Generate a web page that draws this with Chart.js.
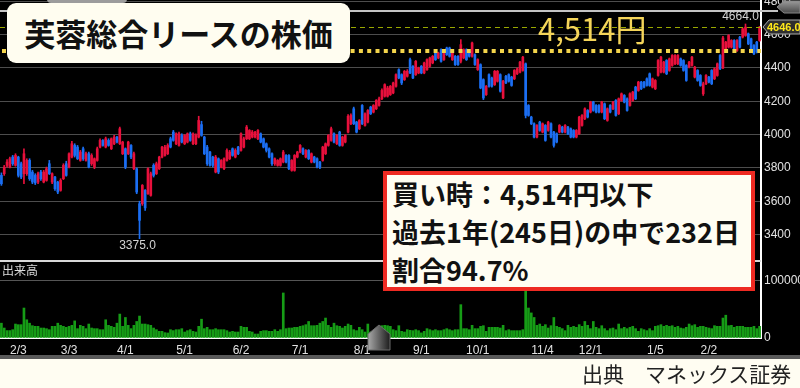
<!DOCTYPE html>
<html><head><meta charset="utf-8">
<script src="https://cdn.jsdelivr.net/npm/chart.js@4"></script>
<style>
html,body{margin:0;padding:0;background:#fffdf2;}
#wrap{position:relative;width:800px;height:388px;overflow:hidden;background:#fffdf2;font-family:"Noto Sans CJK JP",sans-serif;}
#black{position:absolute;left:0;top:0;width:800px;height:355px;background:#000;}
#band{position:absolute;left:0;top:355px;width:800px;height:4px;background:#5a5a5a;}
#c1{position:absolute;left:0;top:0;}
#c2{position:absolute;left:0;top:262px;}
#deco{position:absolute;left:0;top:0;}
#title{position:absolute;left:7px;top:3px;width:343px;height:60px;background:#fffdf0;border-radius:9px;font-weight:700;font-size:31px;color:#111;line-height:60px;text-align:center;white-space:nowrap;}
#price{position:absolute;left:538px;top:8px;font-weight:400;font-size:31px;color:#f5d55a;line-height:40px;white-space:nowrap;}
#note{position:absolute;left:383px;top:171px;width:372px;height:120px;box-sizing:border-box;border:4px solid #ee2a22;background:#fffdf2;font-weight:700;font-size:27px;color:#111;line-height:38px;padding-left:5px;white-space:nowrap;}
#vlabel{position:absolute;left:2px;top:263px;font-size:12px;color:#dcdcdc;line-height:14px;}
#src{position:absolute;left:582px;top:359px;font-size:21px;color:#222;line-height:28px;white-space:nowrap;}
</style></head>
<body>
<div id="wrap">
<div id="black"></div>
<div id="band"></div>
<canvas id="c1" width="800" height="262"></canvas>
<canvas id="c2" width="800" height="96"></canvas>
<svg id="deco" width="800" height="388">
 <defs>
  <linearGradient id="hg" x1="0" x2="1" y1="0" y2="0"><stop offset="0" stop-color="#a8a8a8"/><stop offset="1" stop-color="#1c1c1c"/></linearGradient>
  <linearGradient id="tg" x1="0" x2="0" y1="0" y2="1"><stop offset="0" stop-color="#9a9a9a"/><stop offset="1" stop-color="#4a4a4a"/></linearGradient>
 </defs>
 <rect x="47" y="-5" width="80" height="8" rx="4" fill="#9c9c9c"/>
 <polygon points="777,7 784,1 800,1 800,13 784,13" fill="url(#tg)" stroke="#888" stroke-width="1"/>
 <polygon points="368,334 379,325 390,334 390,350 368,350" fill="url(#hg)" stroke="#6a6a6a" stroke-width="1"/>
</svg>
<div id="title">芙蓉総合リースの株価</div>
<div id="price">4,514円</div>
<div id="note"><div>買い時：4,514円以下</div><div>過去1年(245日)の中で232日</div><div>割合94.7%</div></div>
<div id="vlabel">出来高</div>
<div id="src">出典　マネックス証券</div>
</div>
<script>
const tickLabels = ['2/3','3/3','4/1','5/1','6/2','7/1','8/1','9/1','10/1','11/4','12/1','1/5','2/2'];
const tickIndex = [6,24,44,65,85,106,128,149,169,192,209,232,251];
const priceTicks = [3400,3600,3800,4000,4200,4400,4600,4800];
const volumeTicks = [0,100000];
const buyPrice = 4514;
const lastPrice = 4646;
const yearHigh = 4664, yearHighIdx = 264;
const yearLow = 3375, yearLowIdx = 49;

const opens = [
3755,3765,3815,3805,3865,3815,3865,3825,3765,3765,
3845,3775,3755,3715,3775,3715,3725,3825,3715,3745,
3715,3665,3735,3825,3805,3865,3935,3925,3845,3915,
3845,3885,3825,3805,3845,3925,3965,3925,3965,3915,
3945,3985,3945,3885,3915,3885,3935,3795,3795,3585,
3585,3665,3645,3635,3815,3765,3795,3865,3875,3885,
3975,4015,3945,3935,3995,3945,3955,4005,3945,3945,
3985,4060,3985,3925,3895,3865,3775,3855,3805,3795,
3845,3855,3915,3865,3925,3905,3925,3975,3975,3985,
3985,3975,4005,3975,3945,3915,3885,3825,3815,3815,
3835,3875,3875,3785,3785,3865,3895,3915,3865,3905,
3835,3865,3855,3835,3845,3885,3935,3965,4005,3945,
4015,3935,3955,4015,4065,4155,4075,4035,4175,4055,
4075,4165,4135,4155,4175,4215,4230,4230,4240,4250,
4290,4390,4360,4330,4350,4450,4410,4360,4370,4410,
4370,4390,4410,4430,4490,4460,4510,4450,4520,4520,
4450,4470,4470,4440,4460,4510,4500,4470,4480,4390,
4420,4330,4240,4360,4340,4300,4320,4360,4220,4350,
4360,4345,4335,4365,4375,4385,4425,4175,4105,4065,
3985,4075,4015,4055,4025,4065,4015,4005,4015,4045,
4015,4045,4035,4025,3985,4005,4055,4095,4145,4135,
4195,4175,4175,4135,4185,4085,4175,4155,4205,4125,
4205,4235,4215,4175,4205,4285,4265,4315,4315,4335,
4365,4285,4275,4355,4375,4375,4445,4385,4415,4425,
4425,4455,4445,4415,4405,4415,4345,4385,4355,4245,
4305,4345,4385,4335,4355,4475,4400,4515,4525,4525,
4565,4505,4585,4585,4595,4605,4575,4535,4555,4565];
const highs = [
3770,3815,3850,3865,3875,3885,3870,3835,3915,3855,
3855,3785,3765,3775,3785,3785,3805,3845,3770,3750,
3720,3735,3825,3840,3890,3960,3945,3935,3905,3925,
3895,3895,3885,3860,3925,3975,3970,3985,3975,3980,
3995,3990,4045,3960,3920,3960,3940,3895,3800,3600,
3700,3670,3800,3775,3825,3835,3870,3930,3935,3945,
3985,4025,4010,4015,4005,4000,4010,4015,4010,4005,
4110,4080,3990,3935,3900,3870,3875,3860,3850,3860,
3915,3905,3920,3915,3930,4010,3985,4055,4030,4025,
4020,4030,4010,3980,3950,3920,3890,3860,3850,3860,
3905,3880,3880,3850,3880,3900,3940,3920,3910,3910,
3890,3870,3860,3840,3930,3950,4000,4045,4010,4000,
4020,3990,4000,4120,4125,4165,4080,4090,4180,4130,
4150,4170,4180,4210,4225,4275,4305,4290,4295,4315,
4365,4395,4365,4385,4390,4460,4415,4445,4405,4415,
4435,4455,4465,4475,4500,4495,4515,4505,4525,4525,
4505,4475,4475,4570,4515,4515,4505,4555,4485,4455,
4425,4335,4295,4365,4345,4385,4385,4365,4325,4355,
4365,4350,4390,4400,4440,4470,4430,4180,4110,4070,
4060,4080,4070,4060,4080,4070,4020,4010,4060,4050,
4060,4050,4040,4030,4030,4110,4120,4160,4150,4200,
4200,4180,4180,4200,4190,4160,4180,4200,4210,4220,
4250,4240,4220,4250,4260,4290,4320,4320,4320,4340,
4370,4340,4330,4450,4470,4440,4450,4460,4480,4480,
4480,4460,4450,4420,4440,4470,4410,4390,4360,4315,
4360,4350,4390,4400,4430,4480,4590,4560,4600,4570,
4570,4570,4590,4640,4664,4610,4580,4540,4560,4650];
const lows = [
3695,3755,3805,3800,3815,3810,3745,3735,3705,3755,
3725,3705,3700,3705,3725,3710,3720,3760,3705,3665,
3645,3660,3730,3750,3800,3860,3865,3850,3840,3845,
3840,3800,3815,3795,3840,3920,3930,3920,3930,3910,
3940,3950,3940,3880,3795,3880,3855,3790,3645,3375,
3575,3545,3640,3630,3745,3760,3790,3860,3870,3880,
3920,3960,3940,3930,3950,3940,3950,3960,3940,3940,
3980,3990,3880,3815,3810,3805,3770,3765,3800,3790,
3840,3850,3870,3860,3880,3900,3920,3970,3970,3980,
3980,3970,3950,3920,3895,3860,3815,3815,3810,3810,
3830,3830,3790,3780,3780,3860,3890,3880,3860,3850,
3830,3830,3800,3795,3840,3880,3930,3960,3950,3940,
3930,3930,3950,4010,4060,4060,4010,4030,4060,4050,
4070,4120,4130,4150,4170,4210,4225,4225,4235,4245,
4285,4335,4300,4325,4345,4365,4335,4355,4365,4365,
4365,4385,4405,4425,4445,4455,4435,4445,4475,4465,
4445,4415,4415,4430,4455,4445,4465,4465,4415,4385,
4275,4210,4235,4285,4285,4295,4315,4255,4215,4305,
4315,4290,4330,4360,4370,4380,4100,4110,4060,3980,
3980,4020,4010,3960,4020,3980,3925,3950,4010,4010,
4010,4000,3980,3980,3980,4000,4050,4090,4100,4130,
4140,4130,4130,4130,4090,4080,4130,4150,4110,4120,
4200,4190,4140,4170,4200,4210,4260,4270,4280,4290,
4290,4280,4270,4350,4370,4370,4360,4380,4410,4420,
4420,4410,4380,4320,4400,4410,4340,4320,4290,4235,
4300,4310,4300,4330,4350,4390,4395,4510,4520,4520,
4510,4500,4520,4580,4590,4540,4510,4480,4490,4560];
const closes = [
3705,3805,3835,3855,3825,3875,3755,3745,3885,3845,
3735,3715,3710,3765,3735,3775,3795,3765,3765,3675,
3655,3725,3815,3755,3885,3945,3875,3855,3895,3855,
3885,3805,3875,3855,3915,3965,3935,3975,3935,3975,
3985,3955,4035,3955,3805,3955,3865,3885,3655,3485,
3695,3560,3795,3765,3755,3825,3865,3925,3925,3935,
3925,3965,4005,4005,3955,3995,4005,3965,4005,3995,
4085,3995,3885,3825,3815,3815,3865,3775,3845,3855,
3905,3895,3875,3905,3885,4005,3975,4045,4025,4015,
4015,4025,3955,3925,3905,3865,3825,3855,3845,3855,
3895,3835,3795,3845,3875,3895,3935,3885,3905,3855,
3885,3835,3805,3805,3925,3945,3995,4035,3955,3995,
3935,3985,3995,4110,4115,4065,4015,4085,4065,4125,
4145,4125,4175,4205,4215,4265,4300,4280,4290,4310,
4360,4340,4310,4380,4380,4370,4340,4440,4400,4370,
4430,4450,4460,4470,4450,4490,4440,4500,4480,4470,
4500,4420,4420,4540,4510,4450,4470,4550,4420,4450,
4280,4220,4290,4290,4290,4380,4380,4260,4320,4310,
4320,4295,4385,4395,4435,4465,4115,4115,4065,3985,
4055,4025,4065,3965,4075,3985,3935,3955,4055,4015,
4055,4005,3985,3985,4025,4105,4115,4155,4105,4195,
4145,4135,4135,4195,4095,4155,4135,4195,4115,4215,
4245,4195,4145,4245,4255,4215,4315,4275,4285,4295,
4295,4335,4325,4445,4465,4435,4365,4455,4475,4475,
4475,4415,4385,4325,4435,4465,4405,4325,4295,4305,
4355,4315,4305,4395,4425,4395,4580,4555,4595,4565,
4515,4565,4525,4635,4645,4545,4515,4485,4495,4646];
const volumes = [
26000,17500,13000,13000,14600,24500,23400,23400,52600,32000,
26000,21600,20500,20500,17500,17500,16400,14600,20500,20500,
26000,22200,20500,18700,20500,22200,30000,16400,22200,20500,
16400,24500,17500,16400,16400,14600,14600,32000,22200,20500,
18700,26000,42000,20500,36000,22200,16400,22200,29000,38500,
24500,24500,23400,22200,17500,14600,11700,11700,9400,8800,
14600,13000,14600,14600,16400,10500,12900,14600,11700,10500,
20500,33000,16400,18700,14600,14600,16400,14600,14600,14600,
12900,10500,11700,10500,10500,20500,18700,18700,11700,10500,
7000,7000,11700,12900,12900,11700,11700,14600,11700,14600,
79000,16400,17500,17500,18700,18700,20500,21600,23400,29000,
21600,21600,22200,26000,29000,35000,22200,18700,26000,21600,
20500,17500,20500,24500,22200,14600,12900,18700,14600,10500,
24500,10500,11700,14600,16400,21600,22200,21600,20500,14600,
12900,21600,11700,10500,14600,13500,12900,14600,12900,9000,
11700,16400,14600,12900,14600,12900,12900,14600,16400,14600,
12900,14600,14600,58500,16400,16400,14600,22200,16400,16400,
20500,21600,11700,18700,18700,18700,18700,17500,22200,12900,
14600,12900,12900,12900,12900,14600,82000,52600,44000,36000,
22200,24500,20500,23400,17500,21600,36000,20500,18700,16400,
12900,22200,18700,20500,18700,23400,20500,29000,22200,16400,
29000,18700,16400,21600,16400,12900,16400,17500,14600,24500,
16400,18700,16400,18700,20500,16400,11700,16400,14600,12900,
16400,12900,20500,21600,23400,20500,22200,20500,21600,18700,
20500,17500,16400,18700,24500,21600,23400,18700,20500,20500,
18700,17500,16400,21600,20500,20500,35000,40000,21600,22200,
18700,20500,20500,20500,18700,18700,18700,20500,16400,20500];

const RED = '#e8103c', BLUE = '#1b6ef3', GREEN = '#169c16';
const cats = opens.map((_, i) => i);
const candleColors = cats.map(i => closes[i] >= opens[i] ? RED : BLUE);
const AXIS_FONT = {family: '"Liberation Sans", Arial, sans-serif', size: 12};

const overlay1 = {
  id: 'ov1',
  afterDatasetsDraw(chart) {
    const {ctx, chartArea: a, scales: {x, y}} = chart;
    ctx.save();
    ctx.fillStyle = '#d8d8d8';
    ctx.fillRect(0, a.bottom - 2, a.right, 2);
    ctx.fillStyle = '#c4c4c4';
    ctx.fillRect(0, 10, 778, 2);
    const yl = Math.round(y.getPixelForValue(lastPrice)) + 0.5;
    ctx.strokeStyle = '#9aa800'; ctx.lineWidth = 1; ctx.setLineDash([5, 4]);
    ctx.beginPath(); ctx.moveTo(a.left, yl); ctx.lineTo(a.right, yl); ctx.stroke();
    const yb = y.getPixelForValue(buyPrice) + 2;
    ctx.strokeStyle = '#f3d44b'; ctx.lineWidth = 4; ctx.setLineDash([4, 4.3]);
    ctx.beginPath(); ctx.moveTo(a.left + 2, yb); ctx.lineTo(a.right, yb); ctx.stroke();
    ctx.setLineDash([]);
    ctx.font = '12px "Liberation Sans", Arial, sans-serif';
    ctx.fillStyle = '#d4d4d4'; ctx.textAlign = 'center';
    ctx.textBaseline = 'bottom';
    ctx.fillText(yearHigh.toFixed(1), x.getPixelForValue(yearHighIdx) - 5, y.getPixelForValue(yearHigh) - 1);
    ctx.textBaseline = 'top';
    ctx.fillText(yearLow.toFixed(1), x.getPixelForValue(yearLowIdx) - 2, y.getPixelForValue(yearLow) + 1);
    const yt = Math.round(y.getPixelForValue(lastPrice));
    ctx.beginPath();
    ctx.moveTo(763, yt); ctx.lineTo(769, yt - 7); ctx.lineTo(800, yt - 7); ctx.lineTo(800, yt + 7); ctx.lineTo(769, yt + 7); ctx.closePath();
    ctx.fillStyle = '#2e2e2e'; ctx.fill();
    ctx.strokeStyle = '#aaaaaa'; ctx.lineWidth = 1; ctx.stroke();
    ctx.fillStyle = '#ffe81a'; ctx.font = 'bold 11px "Liberation Sans", Arial, sans-serif';
    ctx.textAlign = 'left'; ctx.textBaseline = 'middle';
    ctx.fillText(lastPrice.toFixed(1), 767, yt + 1);
    ctx.restore();
  }
};

new Chart(document.getElementById('c1'), {
  type: 'bar',
  data: {
    labels: cats,
    datasets: [
      {data: cats.map(i => [lows[i], highs[i]]), backgroundColor: candleColors, barThickness: 1, grouped: false, borderWidth: 0, order: 2},
      {data: cats.map(i => [opens[i], closes[i]]), backgroundColor: candleColors, barThickness: 2, grouped: false, borderWidth: 0, minBarLength: 1, order: 1}
    ]
  },
  options: {
    responsive: false, animation: false, events: [],
    layout: {padding: 0, autoPadding: false},
    plugins: {legend: {display: false}, tooltip: {enabled: false}},
    scales: {
      x: {display: false, offset: true},
      y: {
        position: 'right', min: 3235, max: 4808,
        afterBuildTicks: s => { s.ticks = priceTicks.map(v => ({value: v})); },
        afterFit: s => { s.width = 39; s.paddingTop = 0; s.paddingBottom = 0; },
        grid: {color: '#4d4d4d', lineWidth: 1, drawTicks: false},
        border: {display: true, color: '#ffffff', width: 2},
        ticks: {color: '#e2e2e2', padding: 3, font: AXIS_FONT, callback: v => String(v)}
      }
    }
  },
  plugins: [overlay1]
});

new Chart(document.getElementById('c2'), {
  type: 'bar',
  data: {labels: cats, datasets: [{data: volumes, backgroundColor: GREEN, barThickness: 2, borderWidth: 0}]},
  options: {
    responsive: false, animation: false, events: [],
    layout: {padding: 0, autoPadding: false},
    plugins: {legend: {display: false}, tooltip: {enabled: false}},
    scales: {
      x: {
        offset: true,
        grid: {display: false, drawTicks: false},
        border: {display: true, color: '#ffffff', width: 2},
        ticks: {autoSkip: false, maxRotation: 0, minRotation: 0, padding: 5, color: '#e2e2e2', font: AXIS_FONT,
          callback: (v, i) => { const k = tickIndex.indexOf(i); return k >= 0 ? tickLabels[k] : ''; }},
        afterFit: s => { s.height = 20; s.paddingLeft = 0; s.paddingRight = 0; }
      },
      y: {
        position: 'right', min: 0, max: 133333,
        afterBuildTicks: s => { s.ticks = volumeTicks.map(v => ({value: v})); },
        afterFit: s => { s.width = 39; s.paddingTop = 0; s.paddingBottom = 0; },
        grid: {color: c => (c.tick && c.tick.value === 0) ? 'rgba(0,0,0,0)' : '#555555', drawTicks: false},
        border: {display: true, color: '#ffffff', width: 2},
        ticks: {color: '#e2e2e2', padding: 3, font: AXIS_FONT, callback: v => String(v)}
      }
    }
  }
});
</script>
</body></html>
